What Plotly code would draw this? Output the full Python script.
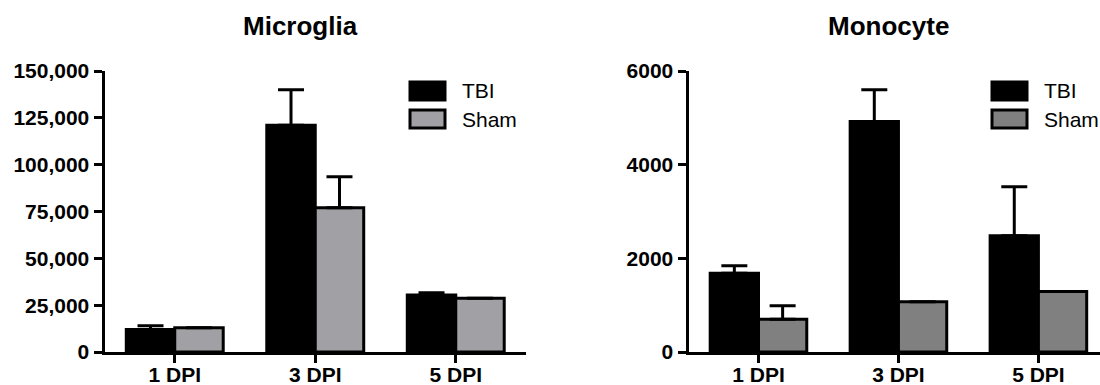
import plotly.graph_objects as go

# Days post injury (x categories)
days = ["1 DPI", "3 DPI", "5 DPI"]

# Microglia counts
microglia_tbi = [12000, 121000, 30400]
microglia_tbi_err = [2000, 19000, 1200]
microglia_sham = [13000, 77000, 28700]
microglia_sham_err = [0, 16500, 0]

# Monocyte counts
monocyte_tbi = [1680, 4920, 2480]
monocyte_tbi_err = [160, 680, 1050]
monocyte_sham = [700, 1075, 1290]
monocyte_sham_err = [285, 0, 0]

# Axis ticks
microglia_ticks = [0, 25000, 50000, 75000, 100000, 125000, 150000]
monocyte_ticks = [0, 2000, 4000, 6000]

group_names = ["TBI", "Sham"]

TBI_COLOR = "#000000"
SHAM_COLOR_LEFT = "#a1a1a5"
SHAM_COLOR_RIGHT = "#808080"
FONT = "Liberation Sans, Arial, sans-serif"
W, H = 1100, 385


def bar(x, y, err, color, name, xa, ya):
    return go.Bar(
        x=x, y=y, name=name, xaxis=xa, yaxis=ya, showlegend=False,
        marker=dict(color=color, line=dict(color="black", width=3)),
        error_y=dict(type="data", array=err, arrayminus=[0] * len(err),
                     symmetric=False, color="black", thickness=3, width=13),
    )


fig = go.Figure()
fig.add_trace(bar(days, microglia_tbi, microglia_tbi_err, TBI_COLOR, group_names[0], "x", "y"))
fig.add_trace(bar(days, microglia_sham, microglia_sham_err, SHAM_COLOR_LEFT, group_names[1], "x", "y"))
fig.add_trace(bar(days, monocyte_tbi, monocyte_tbi_err, TBI_COLOR, group_names[0], "x2", "y2"))
fig.add_trace(bar(days, monocyte_sham, monocyte_sham_err, SHAM_COLOR_RIGHT, group_names[1], "x2", "y2"))

tickfont = dict(family=FONT, size=21, color="black", weight="bold")
axis_common = dict(
    showline=True, linecolor="black", linewidth=3, showgrid=False, zeroline=False,
    ticks="outside", ticklen=8, tickwidth=3, tickcolor="black", tickfont=tickfont,
    automargin=False,
)
# category labels sit close under the tick marks
x_extra = dict(ticklabelstandoff=-6)

y_dom = [1 - 352 / H, 1 - 71 / H]

fig.update_layout(
    width=W, height=H,
    margin=dict(l=0, r=0, t=0, b=0, autoexpand=False),
    paper_bgcolor="white", plot_bgcolor="white",
    barmode="group", bargap=0.31, bargroupgap=0,
    xaxis=dict(domain=[104.5 / W, 526 / W], range=[-0.5, 2.5], anchor="y",
               **axis_common, **x_extra),
    yaxis=dict(domain=y_dom, range=[0, 150000], tickvals=microglia_ticks,
               tickformat=",d", anchor="x", **axis_common),
    xaxis2=dict(domain=[688.5 / W, 1.0], range=[-0.5, 2.44], anchor="y2",
                **axis_common, **x_extra),
    yaxis2=dict(domain=y_dom, range=[0, 6000], tickvals=monocyte_ticks,
                tickformat="d", anchor="x2", **axis_common),
)

# Panel titles
for text, xc in [("Microglia", 300), ("Monocyte", 888)]:
    fig.add_annotation(
        text=text, x=xc / W, y=1 - 26 / H, xref="paper", yref="paper",
        xanchor="center", yanchor="middle", showarrow=False,
        font=dict(family=FONT, size=26, color="black", weight="bold"),
    )

# Legends drawn as swatches + labels
legend_specs = [
    (410, [TBI_COLOR, SHAM_COLOR_LEFT]),
    (992, [TBI_COLOR, SHAM_COLOR_RIGHT]),
]
row_y = [(82, 100), (110, 128)]
for x0, colors in legend_specs:
    for (ya, yb), color, name in zip(row_y, colors, group_names):
        fig.add_shape(
            type="rect", xref="paper", yref="paper",
            x0=x0 / W, x1=(x0 + 35) / W, y0=1 - yb / H, y1=1 - ya / H,
            fillcolor=color, line=dict(color="black", width=3),
        )
        fig.add_annotation(
            text=name, x=(x0 + 50) / W, y=1 - (ya + yb) / 2 / H,
            xref="paper", yref="paper", xanchor="left", yanchor="middle",
            showarrow=False, font=dict(family=FONT, size=21, color="black"),
        )

fig.write_html("out.html")
